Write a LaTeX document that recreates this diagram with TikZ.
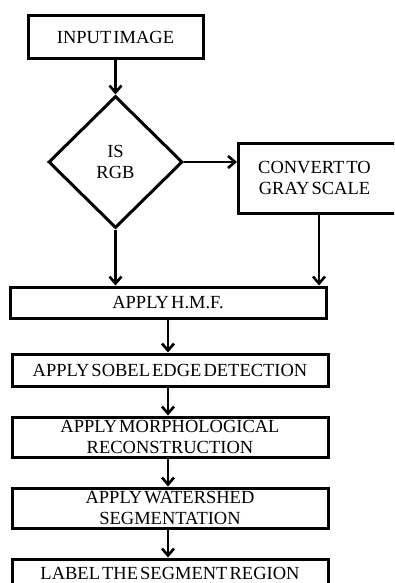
\documentclass[tikz,border=0pt]{standalone}
\usepackage{fontspec}
\setmainfont[WordSpace=0.45]{Liberation Serif}
\usetikzlibrary{shapes.geometric,arrows.meta}
\begin{document}
\begin{tikzpicture}[x=1pt,y=-1pt,
  box/.style={draw=black,line width=3pt,fill=white,inner sep=0pt,align=center,
    font=\fontsize{18.5}{21.5}\selectfont,text=black},
  dec/.style={draw=black,line width=3pt,fill=white,diamond,inner sep=0pt,align=center,
    minimum width=134pt,minimum height=132pt,font=\fontsize{18.5}{21.5}\selectfont},
  flow/.style={draw=black,line width=2.6pt,-{Straight Barb[length=7pt,width=12pt,line width=2.6pt]}}]
\useasboundingbox (0,0) rectangle (394,583);
\clip (0,0) rectangle (394,583);
\fill[white] (0,0) rectangle (394,583);
\node[box,minimum width=175pt,minimum height=43pt] (in) at (115.5,37.5) {INPUT IMAGE};
\node[dec] (d) at (115.5,162) {IS\\RGB};
\node[box,minimum width=158pt,minimum height=70pt,anchor=west] (conv) at (237,178) {\hspace*{-6pt}CONVERT TO\\\hspace*{-6pt}GRAY SCALE};
\node[box,minimum width=316pt,minimum height=31pt] (hmf) at (168,302.5) {APPLY H.M.F.};
\node[box,minimum width=316pt,minimum height=32pt] (sob) at (170,370) {APPLY SOBEL EDGE DETECTION};
\node[box,minimum width=316pt,minimum height=40pt] (mor) at (170,437) {APPLY MORPHOLOGICAL\\RECONSTRUCTION};
\node[box,minimum width=316pt,minimum height=40pt] (wat) at (170,508) {APPLY WATERSHED\\SEGMENTATION};
\node[box,minimum width=316pt,minimum height=28pt] (lab) at (170,573) {LABEL THE SEGMENT REGION};
\draw[flow] (in.south) -- (d.north);
\draw[flow] (d.east) -- (d.east -| conv.west);
\draw[flow] (d.south) -- (d.south |- hmf.north);
\draw[flow] ([xshift=-79pt]conv.south east) -- ([xshift=-79pt]conv.south east |- hmf.north);
\draw[flow] ([xshift=-2pt]sob.north |- hmf.south) -- ([xshift=-2pt]sob.north);
\draw[flow] ([xshift=-2pt]sob.south) -- ([xshift=-2pt]mor.north);
\draw[flow] ([xshift=-2pt]mor.south) -- ([xshift=-2pt]wat.north);
\draw[flow] ([xshift=-2pt]wat.south) -- ([xshift=-2pt]lab.north);
\end{tikzpicture}
\end{document}
